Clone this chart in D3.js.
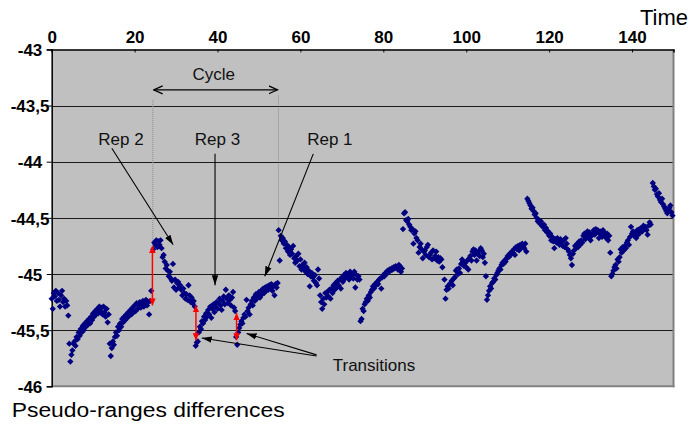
<!DOCTYPE html>
<html>
<head>
<meta charset="utf-8">
<script src="https://cdn.jsdelivr.net/npm/d3@7"></script>
<style>
  html, body { margin: 0; padding: 0; background: #fff; }
  svg { display: block; font-family: "Liberation Sans", Arial, sans-serif; }
</style>
</head>
<body>
<svg id="chart" width="690" height="426"></svg>
<script>
// ---------------- data ----------------
const xTicks = [0, 20, 40, 60, 80, 100, 120, 140];
const yTicks = [-46, -45.5, -45, -44.5, -44, -43.5, -43];
const gridValues = [-45.5, -45, -44.5, -44, -43.5];
const xTitle = "Time";
const yTitle = "Pseudo-ranges differences";
const sampleStep = 0.25;

const segmentStarts = [0, 4.25, 14, 24.5, 34.75, 44.5, 54.75, 64.75, 74.5, 84.75, 94.75, 104.75, 114.75, 134.75, 145];

const segA = [-45.22,-45.31,-45.17,-45.20,-45.15,-45.24,-45.17,-45.23,-45.29,-45.19,-45.15,-45.25,-45.22,-45.29,-45.24,-45.28,-45.37];
const segB = [-45.62,-45.78,-45.72,-45.68,-45.62,-45.60,-45.64,-45.56,-45.58,-45.52,
              -45.55,-45.49,-45.52,-45.46,-45.50,-45.44,-45.47,-45.42,-45.45,-45.40,
              -45.44,-45.38,-45.41,-45.35,-45.38,-45.33,-45.36,-45.31,-45.35,-45.29,
              -45.33,-45.30,-45.36,-45.29,-45.34,-45.38,-45.31,-45.43,-45.36];
const segC = [-45.62,-45.73,-45.66,-45.60,-45.63,-45.56,-45.52,-45.55,-45.47,-45.50,
              -45.44,-45.47,-45.40,-45.43,-45.38,-45.41,-45.36,-45.39,-45.34,-45.37,
              -45.32,-45.36,-45.30,-45.34,-45.28,-45.33,-45.26,-45.31,-45.28,-45.25,
              -45.30,-45.27,-45.24,-45.29,-45.26,-45.23,-45.28,-45.25,-45.36,-45.24,-45.15];
const segD = [-44.78,-44.72,-44.74,-44.70,-44.76,-44.71,-44.74,-44.70,-44.77,-44.85,
              -44.83,-44.89,-44.95,-44.92,-44.97,-45.02,-44.98,-45.04,-45.06,-44.91,
              -45.12,-45.05,-45.14,-45.08,-45.07,-45.12,-45.10,-45.14,-45.19,-45.13,
              -45.17,-45.22,-45.18,-45.23,-45.10,-45.19,-45.25,-45.21,-45.26,-45.24,-45.29];
const segE = [-45.64,-45.61,-45.60,-45.52,-45.47,-45.49,-45.42,-45.44,-45.38,-45.41,
              -45.35,-45.38,-45.32,-45.36,-45.29,-45.39,-45.31,-45.27,-45.34,-45.29,
              -45.25,-45.31,-45.26,-45.22,-45.28,-45.32,-45.24,-45.20,-45.27,-45.14,
              -45.22,-45.26,-45.19,-45.23,-45.28,-45.21,-45.16,-45.30,-45.33];
const segF = [-45.56,-45.63,-45.52,-45.48,-45.45,-45.42,-45.44,-45.39,-45.36,-45.38,
              -45.23,-45.33,-45.30,-45.36,-45.27,-45.24,-45.28,-45.21,-45.24,-45.18,
              -45.22,-45.19,-45.16,-45.21,-45.15,-45.18,-45.13,-45.17,-45.12,-45.15,
              -45.11,-45.14,-45.10,-45.13,-45.09,-45.15,-45.11,-45.19,-45.09,-45.12,-45.08];
const segG = [-44.61,-44.88,-44.66,-44.70,-44.68,-44.73,-44.71,-44.77,-44.74,-44.80,
              -44.76,-44.83,-44.78,-44.82,-44.75,-44.86,-44.90,-44.84,-44.88,-44.82,
              -44.93,-44.87,-44.96,-44.92,-44.95,-44.90,-44.98,-44.94,-45.00,-44.97,
              -45.11,-45.02,-44.99,-45.03,-45.06,-45.01,-45.08,-45.10,-44.96,-45.04];
const segH = [-45.19,-45.25,-45.31,-45.22,-45.27,-45.17,-45.21,-45.16,-45.20,-45.14,
              -45.22,-45.13,-45.17,-45.10,-45.14,-45.08,-45.12,-45.06,-45.10,-45.05,
              -45.13,-45.03,-45.07,-45.01,-45.04,-44.99,-45.03,-45.00,-45.05,-44.98,
              -45.02,-45.00,-45.04,-44.98,-45.12,-45.01,-45.05,-45.02,-45.05];
const segI = [-45.42,-45.40,-45.31,-45.33,-45.27,-45.25,-45.22,-45.24,-45.19,-45.21,
              -45.16,-45.14,-45.11,-45.13,-45.09,-45.10,-45.07,-45.09,-45.05,-45.04,
              -45.13,-45.03,-45.01,-45.02,-44.99,-45.00,-44.97,-44.98,-44.96,-44.97,
              -44.95,-44.96,-44.94,-44.95,-44.93,-44.94,-44.96,-44.92,-44.93,-44.98,-44.95];
const segJ = [-44.60,-44.46,-44.45,-44.52,-44.53,-44.51,-44.56,-44.58,-44.61,-44.60,
              -44.73,-44.64,-44.62,-44.68,-44.70,-44.81,-44.76,-44.73,-44.78,-44.86,
              -44.80,-44.79,-44.83,-44.76,-44.74,-44.85,-44.83,-44.81,-44.87,-44.79,
              -44.86,-44.84,-44.80,-44.88,-44.85,-44.89,-44.86,-44.87,-44.94];
const segK = [-45.05,-45.22,-45.14,-45.11,-45.13,-45.09,-45.08,-45.06,-45.10,-45.04,
              -45.03,-44.97,-44.96,-45.00,-44.95,-44.99,-44.91,-44.87,-44.89,-44.93,
              -44.90,-44.94,-44.88,-44.96,-44.86,-44.84,-44.88,-44.80,-44.78,-44.83,
              -44.79,-44.88,-44.82,-44.80,-44.84,-44.77,-44.79,-44.85,-44.82,-44.90];
const segL = [-45.02,-45.23,-45.19,-45.15,-45.11,-45.13,-45.08,-45.07,-45.04,-45.05,
              -45.01,-44.99,-44.97,-44.95,-44.96,-44.92,-44.90,-44.91,-44.88,-44.89,
              -44.86,-44.84,-44.85,-44.82,-44.83,-44.80,-44.81,-44.78,-44.83,-44.76,
              -44.78,-44.75,-44.79,-44.74,-44.77,-44.73,-44.75,-44.77,-44.73,-44.80];
const segM = [-44.33,-44.35,-44.37,-44.39,-44.42,-44.41,-44.44,-44.47,-44.46,-44.50,
              -44.53,-44.52,-44.55,-44.53,-44.57,-44.58,-44.56,-44.61,-44.59,-44.63,
              -44.62,-44.66,-44.64,-44.70,-44.67,-44.71,-44.77,-44.69,-44.72,-44.68,
              -44.71,-44.74,-44.69,-44.72,-44.75,-44.70,-44.76,-44.68,-44.73,-44.78,
              -44.80,-44.83,-44.86,-44.92,-44.82,-44.79,-44.75,-44.77,-44.73,-44.76,
              -44.71,-44.74,-44.70,-44.72,-44.66,-44.64,-44.69,-44.65,-44.62,-44.67,
              -44.63,-44.70,-44.66,-44.64,-44.61,-44.65,-44.60,-44.63,-44.61,-44.68,
              -44.64,-44.62,-44.67,-44.61,-44.63,-44.65,-44.68,-44.64,-44.70,-44.66];
const segN = [-44.81,-45.02,-45.00,-44.97,-44.94,-44.92,-44.95,-44.87,-44.89,-44.85,
              -44.78,-44.81,-44.76,-44.79,-44.75,-44.77,-44.72,-44.70,-44.74,-44.67,
              -44.58,-44.64,-44.62,-44.66,-44.63,-44.68,-44.61,-44.65,-44.60,-44.63,
              -44.59,-44.62,-44.57,-44.60,-44.58,-44.61,-44.65,-44.57,-44.54,-44.56];
const segO = [-44.19,-44.22,-44.25,-44.24,-44.29,-44.31,-44.28,-44.34,-44.36,-44.33,
              -44.38,-44.40,-44.42,-44.44,-44.46,-44.43,-44.41,-44.39,-44.45,-44.48];

const segmentValues = [segA, segB, segC, segD, segE, segF, segG, segH, segI, segJ, segK, segL, segM, segN, segO];

// annotations (data units)
const repLabels = ["Rep 2", "Rep 3", "Rep 1"];
const repLabelAt = [[16.7, -43.85], [40.0, -43.85], [67.1, -43.85]];
const repArrows = [[[14.5, -43.88], [29.3, -44.74]], [[39.4, -43.93], [39.4, -45.10]], [[63.1, -43.93], [51.4, -45.02]]];
const cycleLabel = "Cycle";
const cycleLabelAt = [39.1, -43.27];
const cycleArrow = [[24.6, -43.36], [54.5, -43.36]];
const cycleGuides = [[24.4, -43.45, -44.72], [54.7, -43.41, -44.61]];
const transitionsLabel = "Transitions";
const transitionsLabelAt = [67.8, -45.86];
const transitionArrows = [[[63.9, -45.73], [36.2, -45.57]], [[63.9, -45.72], [47.0, -45.53]]];
const jumpArrows = [[24.3, -44.75, -45.28], [34.8, -45.28, -45.59], [44.6, -45.35, -45.59]];

// ---------------- drawing ----------------
const svg = d3.select("#chart");
const L = 51.7, R = 673.5, T = 49.4, B = 386.3;
const x = d3.scaleLinear().domain([0, 150]).range([L, R]);
const y = d3.scaleLinear().domain([-46, -43]).range([B, T]);

const defs = svg.append("defs");
function headMarker(id, color, len, half, open) {
  const m = defs.append("marker").attr("id", id)
    .attr("viewBox", `${-len} ${-half - 1} ${len + 1} ${2 * half + 2}`)
    .attr("refX", 0).attr("refY", 0)
    .attr("markerUnits", "userSpaceOnUse")
    .attr("markerWidth", len + 1).attr("markerHeight", 2 * half + 2)
    .attr("orient", "auto-start-reverse");
  if (open) {
    m.append("path").attr("d", `M${-len},${-half}L0,0L${-len},${half}`)
      .attr("fill", "none").attr("stroke", color).attr("stroke-width", 1.2);
  } else {
    m.append("path").attr("d", `M${-len},${-half}L0,0L${-len},${half}Z`).attr("fill", color);
  }
}
headMarker("headBlack", "#000", 10, 3.2, false);
headMarker("headOpen", "#000", 9, 4, true);
headMarker("headRed", "#ff0000", 7, 3.3, false);

// plot background
svg.append("rect").attr("x", L).attr("y", T).attr("width", R - L).attr("height", B - T).attr("fill", "#c0c0c0");

// gridlines
svg.append("g").selectAll("line").data(gridValues).join("line")
  .attr("x1", L).attr("x2", R)
  .attr("y1", d => Math.round(y(d)) + 0.5).attr("y2", d => Math.round(y(d)) + 0.5)
  .attr("stroke", "#1a1a1a").attr("stroke-width", 1.2);

// right & bottom frame (gray)
svg.append("line").attr("x1", R).attr("x2", R).attr("y1", T).attr("y2", B + 1).attr("stroke", "#808080").attr("stroke-width", 2);
svg.append("line").attr("x1", L).attr("x2", R + 1).attr("y1", B).attr("y2", B).attr("stroke", "#808080").attr("stroke-width", 2);

// axes
const xAxis = svg.append("g").attr("transform", `translate(0,${T})`)
  .call(d3.axisTop(x).tickValues(xTicks).tickSize(-3).tickPadding(6).tickFormat(d3.format("d")));
xAxis.select(".domain").attr("stroke", "#000").attr("stroke-width", 1.5);
xAxis.selectAll(".tick line").attr("stroke", "#000");
xAxis.selectAll("text").attr("font-size", 17).attr("font-weight", "bold").attr("fill", "#000")
  .attr("font-family", "Liberation Sans, Arial, sans-serif");

const yAxis = svg.append("g").attr("transform", `translate(${L},0)`)
  .call(d3.axisLeft(y).tickValues(yTicks).tickSize(5).tickFormat(d => String(d).replace(".", ",")));
yAxis.select(".domain").attr("stroke", "#000").attr("stroke-width", 1.5);
yAxis.selectAll(".tick line").attr("stroke", "#000");
yAxis.selectAll("text").attr("font-size", 17).attr("font-weight", "bold").attr("fill", "#000")
  .attr("text-anchor", "middle").attr("x", 30 - L).attr("dy", "0.37em")
  .attr("font-family", "Liberation Sans, Arial, sans-serif");

// titles
svg.append("text").attr("x", 688).attr("y", 25).attr("text-anchor", "end")
  .attr("font-size", 22).attr("fill", "#000").text(xTitle);
svg.append("text").attr("x", 11.7).attr("y", 417.3)
  .attr("font-size", 20).attr("fill", "#000")
  .attr("textLength", 273).attr("lengthAdjust", "spacingAndGlyphs").text(yTitle);

// cycle guides (dotted)
svg.append("g").selectAll("line").data(cycleGuides).join("line")
  .attr("x1", d => x(d[0])).attr("x2", d => x(d[0]))
  .attr("y1", d => y(d[1])).attr("y2", d => y(d[2]))
  .attr("stroke", "#8a8a8a").attr("stroke-width", 1).attr("stroke-dasharray", "1,1");

// data points
const points = segmentValues.flatMap((vals, k) =>
  vals.map((v, i) => ({ t: segmentStarts[k] + i * sampleStep, v })));
const diamond = d3.symbol().type(d3.symbolSquare).size(20)();
svg.append("g").selectAll("path").data(points).join("path")
  .attr("d", diamond)
  .attr("transform", d => `translate(${x(d.t)},${y(d.v)}) rotate(45)`)
  .attr("fill", "#000080");

// cycle arrow + label
svg.append("line")
  .attr("x1", x(cycleArrow[0][0])).attr("y1", y(cycleArrow[0][1]))
  .attr("x2", x(cycleArrow[1][0])).attr("y2", y(cycleArrow[1][1]))
  .attr("stroke", "#000").attr("stroke-width", 1.1)
  .attr("marker-start", "url(#headOpen)").attr("marker-end", "url(#headOpen)");
svg.append("text").attr("x", x(cycleLabelAt[0])).attr("y", y(cycleLabelAt[1]))
  .attr("text-anchor", "middle").attr("font-size", 17).attr("fill", "#111").text(cycleLabel);

// rep labels + arrows
svg.append("g").selectAll("text").data(repLabels).join("text")
  .attr("x", (d, i) => x(repLabelAt[i][0])).attr("y", (d, i) => y(repLabelAt[i][1]))
  .attr("text-anchor", "middle").attr("font-size", 17).attr("fill", "#111").text(d => d);
svg.append("g").selectAll("line").data(repArrows).join("line")
  .attr("x1", d => x(d[0][0])).attr("y1", d => y(d[0][1]))
  .attr("x2", d => x(d[1][0])).attr("y2", d => y(d[1][1]))
  .attr("stroke", "#000").attr("stroke-width", 1.1).attr("marker-end", "url(#headBlack)");

// transitions
svg.append("text").attr("x", x(transitionsLabelAt[0])).attr("y", y(transitionsLabelAt[1]))
  .attr("font-size", 17).attr("fill", "#111").text(transitionsLabel);
svg.append("g").selectAll("line").data(transitionArrows).join("line")
  .attr("x1", d => x(d[0][0])).attr("y1", d => y(d[0][1]))
  .attr("x2", d => x(d[1][0])).attr("y2", d => y(d[1][1]))
  .attr("stroke", "#000").attr("stroke-width", 1.1).attr("marker-end", "url(#headBlack)");

// red jump arrows
svg.append("g").selectAll("line").data(jumpArrows).join("line")
  .attr("x1", d => x(d[0])).attr("x2", d => x(d[0]))
  .attr("y1", d => y(d[1])).attr("y2", d => y(d[2]))
  .attr("stroke", "#ff0000").attr("stroke-width", 1.5)
  .attr("marker-start", "url(#headRed)").attr("marker-end", "url(#headRed)");
</script>
</body>
</html>
